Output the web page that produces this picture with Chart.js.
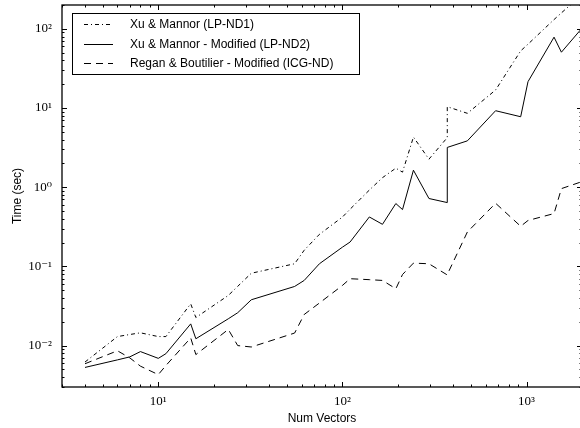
<!DOCTYPE html>
<html>
<head>
<meta charset="utf-8">
<script src="https://cdn.jsdelivr.net/npm/chart.js@4"></script>
<style>
  html, body { margin: 0; padding: 0; background: #fff; overflow: hidden; }
  #wrap { width: 582px; height: 428px; }
</style>
</head>
<body>
<div id="wrap"><canvas id="chart" width="582" height="428"></canvas></div>
<script>
/* =========================
   DATA
========================= */
const numVectors = [4, 6, 7, 8, 10, 11, 15, 16, 24, 27, 32, 55, 62, 75, 100, 110, 140, 165, 195, 212, 243, 295, 371, 371, 477, 679, 929, 1018, 1410, 1546, 1963];

const lpNd1 = [0.0062, 0.013, 0.0138, 0.0145, 0.013, 0.013, 0.0337, 0.0226, 0.043, 0.056, 0.082, 0.108, 0.16, 0.254, 0.42, 0.527, 0.92, 1.32, 1.74, 1.55, 4.3, 2.26, 4.23, 10.4, 8.57, 16.9, 52.7, 64, 131, 159, 260];
const lpNd2 = [0.0053, 0.0066, 0.0072, 0.0084, 0.0069, 0.0079, 0.0188, 0.0122, 0.0218, 0.026, 0.0379, 0.0558, 0.0665, 0.108, 0.175, 0.203, 0.421, 0.34, 0.622, 0.522, 1.64, 0.72, 0.64, 3.18, 3.85, 9.25, 7.76, 21.5, 78.5, 50.7, 97];
const icgNd = [0.0059, 0.0086, 0.007, 0.0055, 0.0043, 0.0056, 0.0125, 0.0077, 0.016, 0.01, 0.0096, 0.0144, 0.0247, 0.0345, 0.0575, 0.0699, 0.068, 0.0665, 0.0522, 0.079, 0.11, 0.108, 0.078, 0.079, 0.272, 0.627, 0.321, 0.38, 0.465, 0.96, 1.16];

const seriesLabels = [
  "Xu & Mannor (LP-ND1)",
  "Xu & Mannor - Modified (LP-ND2)",
  "Regan & Boutilier - Modified (ICG-ND)"
];

const xTickValues = [10, 100, 1000];
const yTickValues = [0.01, 0.1, 1, 10, 100];

/* =========================
   HELPERS
========================= */
const SUP = { "-": "\u207B", "0": "\u2070", "1": "\u00B9", "2": "\u00B2", "3": "\u00B3" };
function powLabel(v) {
  const e = String(Math.round(Math.log10(v)));
  return "10" + e.split("").map(c => SUP[c]).join("");
}

function toPoints(ys) {
  return numVectors.map((x, i) => ({ x: x, y: ys[i] }));
}

/* =========================
   PLUGINS: frame with inward ticks, legend in the plot
========================= */
const frameTicks = {
  id: "frameTicks",
  afterDatasetsDraw(chart) {
    const { ctx, chartArea: a, scales } = chart;
    ctx.save();
    ctx.strokeStyle = "#000";
    ctx.lineWidth = 1;
    ctx.setLineDash([]);

    const logTicks = (scale) => {
      const out = [];
      const lo = Math.floor(Math.log10(scale.min));
      const hi = Math.ceil(Math.log10(scale.max));
      for (let d = lo; d <= hi; d++) {
        for (let k = 1; k <= 9; k++) {
          const v = k * Math.pow(10, d);
          if (v >= scale.min && v <= scale.max) out.push({ v: v, major: k === 1 });
        }
      }
      return out;
    };

    ctx.beginPath();
    logTicks(scales.x).forEach(t => {
      const px = Math.round(scales.x.getPixelForValue(t.v)) + 0.5;
      const len = t.major ? 5 : 2.5;
      ctx.moveTo(px, a.bottom); ctx.lineTo(px, a.bottom - len);
      ctx.moveTo(px, a.top); ctx.lineTo(px, a.top + len);
    });
    logTicks(scales.y).forEach(t => {
      const py = Math.round(scales.y.getPixelForValue(t.v)) + 0.5;
      const len = t.major ? 5 : 2.5;
      ctx.moveTo(a.left, py); ctx.lineTo(a.left + len, py);
      ctx.moveTo(a.right, py); ctx.lineTo(a.right - len, py);
    });
    ctx.stroke();

    ctx.lineWidth = 1.3;
    ctx.strokeRect(a.left, a.top, a.right - a.left, a.bottom - a.top);
    ctx.restore();
  }
};

const insideLegend = {
  id: "insideLegend",
  afterDraw(chart) {
    const { ctx, chartArea: a } = chart;
    const x0 = a.left + 10, y0 = a.top + 8, w = 287, h = 61;
    ctx.save();
    ctx.fillStyle = "#fff";
    ctx.fillRect(x0, y0, w, h);
    ctx.strokeStyle = "#000";
    ctx.lineWidth = 1;
    ctx.strokeRect(x0 + 0.5, y0 + 0.5, w, h);

    chart.data.datasets.forEach((ds, i) => {
      const y = Math.round(y0 + 11 + i * 19.5) + 0.5;
      ctx.setLineDash(ds.borderDash || []);
      ctx.beginPath();
      ctx.moveTo(x0 + 12, y);
      ctx.lineTo(x0 + 41, y);
      ctx.stroke();
      ctx.setLineDash([]);
      ctx.fillStyle = "#000";
      ctx.font = '12px "Liberation Sans", Arial, sans-serif';
      ctx.textBaseline = "middle";
      ctx.textAlign = "left";
      ctx.fillText(ds.label, x0 + 58, y);
    });
    ctx.restore();
  }
};

/* =========================
   CHART
========================= */
const tickFont = { family: '"Liberation Serif", "DejaVu Serif", serif', size: 13 };
const titleFont = { family: '"Liberation Sans", Arial, sans-serif', size: 12 };

new Chart(document.getElementById("chart"), {
  type: "line",
  data: {
    datasets: [
      { label: seriesLabels[0], data: toPoints(lpNd1), borderDash: [4, 3, 1, 3] },
      { label: seriesLabels[1], data: toPoints(lpNd2), borderDash: [] },
      { label: seriesLabels[2], data: toPoints(icgNd), borderDash: [7, 5] }
    ]
  },
  options: {
    responsive: false,
    animation: false,
    layout: { padding: { top: 5, right: 0, bottom: 0, left: 0 } },
    elements: {
      point: { radius: 0 },
      line: { tension: 0, borderWidth: 1, borderColor: "#000", fill: false }
    },
    plugins: {
      legend: { display: false },
      tooltip: { enabled: false }
    },
    scales: {
      x: {
        type: "logarithmic",
        min: 3,
        max: 2000,
        grid: { display: false, drawTicks: false },
        border: { display: false },
        afterBuildTicks: s => { s.ticks = xTickValues.map(v => ({ value: v })); },
        afterFit: s => { s.height = 41; s.paddingLeft = 0; s.paddingRight = 0; },
        ticks: {
          callback: v => powLabel(v),
          font: tickFont,
          color: "#000",
          padding: 7,
          maxRotation: 0,
          autoSkip: false
        },
        title: {
          display: true,
          text: "Num Vectors",
          font: titleFont,
          color: "#000",
          padding: { top: 0, bottom: 2 }
        }
      },
      y: {
        type: "logarithmic",
        min: 0.003,
        max: 200,
        grid: { display: false, drawTicks: false },
        border: { display: false },
        afterBuildTicks: s => { s.ticks = yTickValues.map(v => ({ value: v })); },
        afterFit: s => { s.width = 62; s.paddingTop = 0; s.paddingBottom = 0; },
        ticks: {
          callback: v => powLabel(v),
          font: tickFont,
          color: "#000",
          padding: 10,
          autoSkip: false
        },
        title: {
          display: true,
          text: "Time (sec)",
          font: titleFont,
          color: "#000",
          padding: { top: 10, bottom: 0 }
        }
      }
    }
  },
  plugins: [frameTicks, insideLegend]
});
</script>
</body>
</html>
